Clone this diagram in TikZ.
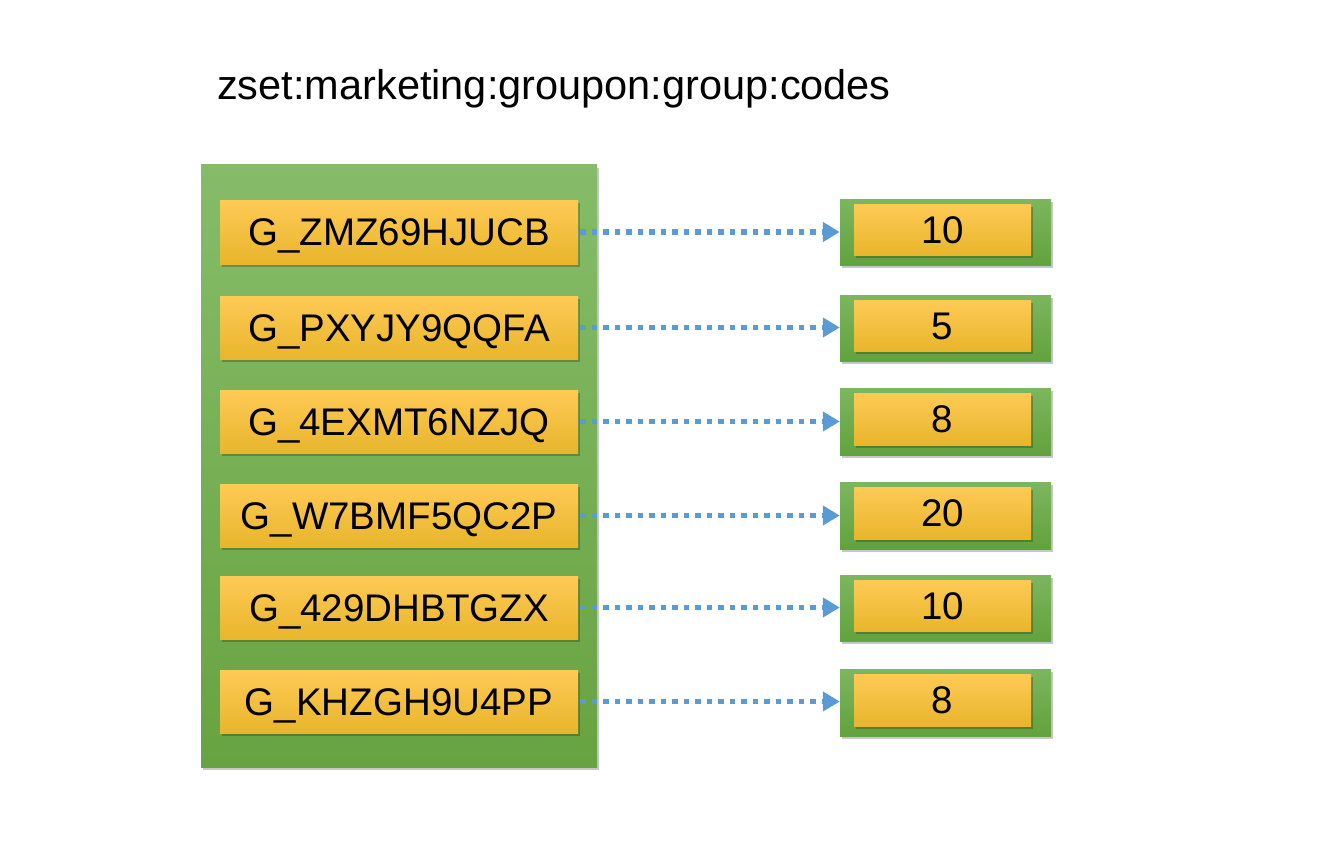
\documentclass[tikz,border=0pt]{standalone}
\usepackage{fontspec}
\setmainfont{Liberation Sans}
\usetikzlibrary{arrows.meta,shadows}
\definecolor{gtop}{HTML}{86BC69}
\definecolor{gbot}{HTML}{68A341}
\definecolor{rgtop}{HTML}{7CB65E}
\definecolor{rgbot}{HTML}{62A23D}
\definecolor{ytop}{HTML}{FFCA55}
\definecolor{ymid}{HTML}{FFC42E}
\definecolor{ybot}{HTML}{E8B52C}
\definecolor{arr}{HTML}{5B9BD5}
\tikzset{
  shad/.style={drop shadow={shadow xshift=2pt,shadow yshift=-3pt,opacity=0.22,fill=black}},
  outer/.style={shad,top color=gtop,bottom color=gbot,draw=none},
  rout/.style={shad,top color=rgtop,bottom color=rgbot,draw=none},
  ybox/.style={shad,top color=ytop,middle color=ymid,bottom color=ybot,draw=none,
     inner sep=0pt,font=\fontsize{38.5}{40}\selectfont,text height=27.6pt,text depth=0pt},
  conn/.style={arr,line width=5.5pt,dash pattern=on 5.5pt off 6pt,
     -{Triangle[length=17pt,width=19pt]}},
}
\begin{document}
\begin{tikzpicture}[x=1pt,y=-1pt]
\useasboundingbox (0,0) rectangle (1344,856);
\node[anchor=base west,font=\fontsize{41.5}{44}\selectfont,inner sep=0pt] (title) at (217,100) {zset:marketing:groupon:group:codes};
\path[outer] (201,165) rectangle (597,767);
\node (big) at (399,466) [minimum width=396pt,minimum height=602pt,inner sep=0pt] {};
\foreach \i/\yt/\yb/\ryt/\ryb/\k/\v in {
  1/200/264/199/265/G\_ZMZ69HJUCB/10,
  2/296/359/295/361/G\_PXYJY9QQFA/5,
  3/390/453/388/455/G\_4EXMT6NZJQ/8,
  4/484/547/482/549/G\_W7BMF5QC2P/20,
  5/576/639/575/641/G\_429DHBTGZX/10,
  6/670/733/669/736/G\_KHZGH9U4PP/8}{
  \pgfmathsetmacro{\ym}{(\yt+\yb)/2}
  \pgfmathsetmacro{\h}{\yb-\yt}
  \pgfmathsetmacro{\rym}{(\ryt+\ryb)/2}
  \pgfmathsetmacro{\rh}{\ryb-\ryt}
  \node[ybox,minimum width=358pt,minimum height=\h pt] (k\i) at (399,\ym) {\k};
  \node[rout,minimum width=211pt,minimum height=\rh pt,inner sep=0pt] (r\i) at (945.5,\rym) {};
  \node[ybox,minimum width=177pt,minimum height=\rh pt-15pt] (v\i) at (942.5,\rym-2.5) {\v};
  \draw[conn] ([xshift=2pt]k\i.east) -- (r\i.west |- k\i.east);
}
\end{tikzpicture}
\end{document}
